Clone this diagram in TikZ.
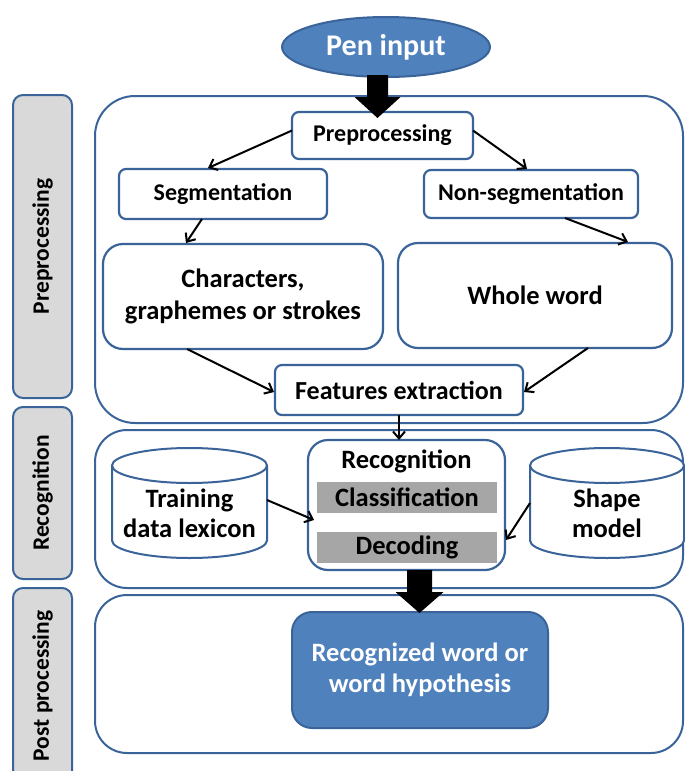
\documentclass[tikz,border=0pt]{standalone}
\usepackage{fontspec}
\setmainfont{Carlito}
\usetikzlibrary{arrows.meta,shapes.geometric,calc}
\definecolor{bord}{HTML}{3A639A}
\definecolor{bfill}{HTML}{4F81BD}
\definecolor{lgray}{HTML}{D9D9D9}
\definecolor{dgray}{HTML}{A6A6A6}
\begin{document}
\begin{tikzpicture}[x=1pt,y=-1pt,
  every node/.style={inner sep=0pt, outer sep=0pt, align=center},
  box/.style={draw=bord, line width=2.2pt, fill=white, rounded corners=7pt, font=\fontsize{24}{29}\selectfont\bfseries},
  bigbox/.style={draw=bord, line width=2.2pt, fill=white, rounded corners=20pt, font=\fontsize{26.5}{32}\selectfont\bfseries},
  bigtext/.style={font=\fontsize{26.5}{30}\selectfont\bfseries},
  container/.style={draw=bord, line width=2pt, rounded corners=#1},
  lane/.style={draw=bord, line width=2pt, fill=lgray, rounded corners=10pt},
  lanetext/.style={rotate=90, font=\fontsize{23.5}{27}\selectfont\bfseries},
  bar/.style={fill=dgray, font=\fontsize{26.5}{30}\selectfont\bfseries},
  cyl/.style={draw=bord, line width=2pt, fill=white},
  arr/.style={draw=black, line width=2pt, -{Straight Barb[length=7pt,width=12pt,line width=2pt]}},
  blk/.style={fill=black}
]
\useasboundingbox (0,0) rectangle (685,771);
\clip (0,0) rectangle (685,771);

% swim lane labels
\draw[lane] (13,95) rectangle (72,398);
\node[lanetext] (l1) at (42.5,246.5) {Preprocessing};
\draw[lane] (13,407) rectangle (72,579);
\node[lanetext] (l2) at (42.5,493) {Recognition};
\draw[lane] (13,588) rectangle (72,790);
\node[lanetext] (l3) at (42.5,686) {Post processing};

% containers
\draw[container=40pt] (95,96) rectangle (683,423);
\draw[container=32pt] (95,430) rectangle (683,588);
\draw[container=32pt] (95,595) rectangle (683,753);

% pen input
\node[ellipse, draw=bord, line width=2pt, fill=bfill, minimum width=208pt, minimum height=60pt,
      text=white, font=\fontsize{30}{34}\selectfont\bfseries] (pen) at (386,47) {Pen input};

% preprocessing stage
\node[box, minimum width=181pt, minimum height=47pt] (pre) at (382.5,135.5) {Preprocessing};
\node[box, minimum width=208pt, minimum height=50pt] (seg) at (223,194) {Segmentation};
\node[box, minimum width=214pt, minimum height=48pt] (nonseg) at (531,194) {Non-segmentation};
\node[bigbox, minimum width=280pt, minimum height=105pt] (chars) at (243,296.5) {Characters,\\graphemes or strokes};
\node[bigbox, minimum width=274pt, minimum height=105pt] (whole) at (535,295.5) {Whole word};
\node[box, font=\fontsize{26}{30}\selectfont\bfseries, minimum width=248pt, minimum height=50pt] (feat) at (399,390) {Features extraction};

% recognition stage
\node[box, rounded corners=20pt, minimum width=197pt, minimum height=130pt] (recog) at (406.5,505) {};
\node[bigtext] (rtitle) at (406.5,461) {Recognition};
\node[bar, minimum width=180pt, minimum height=31pt] (cls) at (407,497.5) {Classification};
\node[bar, minimum width=180pt, minimum height=31pt] (dec) at (407,547.5) {Decoding};

% cylinders
\draw[cyl] (112,465.5) -- (112,540.5) arc[start angle=180, end angle=0, x radius=77.5, y radius=17.5] -- (267,465.5);
\draw[cyl] (189.5,465.5) ellipse[x radius=77.5, y radius=17.5];
\node[minimum width=155pt, minimum height=110pt] (train) at (189.5,503) {};
\node[bigtext] (traintxt) at (189.5,513) {Training\\data lexicon};

\draw[cyl] (530,465.5) -- (530,540.5) arc[start angle=180, end angle=0, x radius=77, y radius=17.5] -- (684,465.5);
\draw[cyl] (607,465.5) ellipse[x radius=77, y radius=17.5];
\node[minimum width=154pt, minimum height=110pt] (shape) at (607,503) {};
\node[bigtext] (shapetxt) at (607,513) {Shape\\model};

% post processing
\node[draw=bord, line width=2pt, fill=bfill, rounded corners=20pt, minimum width=256pt, minimum height=116pt,
      text=white, font=\fontsize{26.5}{31}\selectfont\bfseries] (rw) at (420,670) {Recognized word or\\word hypothesis};

% thin arrows
\draw[arr] ($(pre.west)+(0,-5)$) -- ($(seg.north)+(-15,-1)$);
\draw[arr] ($(pre.east)+(0,-5)$) -- ($(nonseg.north)+(-4,-1)$);
\draw[arr] ($(seg.south)+(-21,0)$) -- ($(chars.north)+(-57,-1)$);
\draw[arr] ($(nonseg.south)+(34,0)$) -- ($(whole.north)+(93,-1)$);
\draw[arr] ($(chars.south)+(-56,0)$) -- ($(feat.west)+(-1,2)$);
\draw[arr] ($(whole.south)+(53,0)$) -- ($(feat.east)+(1,2)$);
\draw[arr] (feat.south) -- (feat.south |- recog.north);
\draw[arr] ($(train.east)+(0,-3)$) -- ($(recog.west)+(6,15)$);
\draw[arr] (shape.west) -- ($(recog.east)+(1,35)$);

% block arrows
\coordinate (pa) at ($(pen.south)+(-8.5,-2)$);
\fill[blk] ($(pa)+(-10.5,0)$) -- ($(pa)+(10.5,0)$) -- ($(pa)+(10.5,22)$) -- ($(pa)+(23,22)$)
  -- ($(pa)+(0,43)$) -- ($(pa)+(-23,22)$) -- ($(pa)+(-10.5,22)$) -- cycle;
\coordinate (pb) at ($(recog.south)+(13,0)$);
\fill[blk] ($(pb)+(-12.5,0)$) -- ($(pb)+(12.5,0)$) -- ($(pb)+(12.5,22)$) -- ($(pb)+(24,22)$)
  -- ($(pb)+(0,43)$) -- ($(pb)+(-24,22)$) -- ($(pb)+(-12.5,22)$) -- cycle;
\end{tikzpicture}
\end{document}
